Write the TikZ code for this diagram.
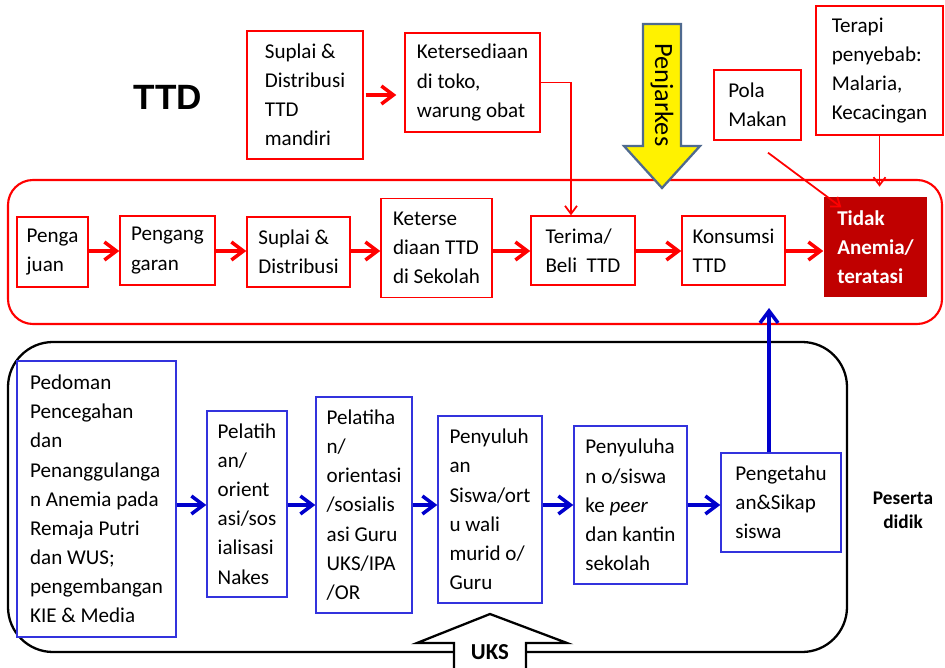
\documentclass[tikz,border=0pt]{standalone}
\usepackage{fontspec}
\setmainfont{Carlito}
\newfontfamily\arialfont{Liberation Sans}
\usetikzlibrary{arrows.meta}
\usetikzlibrary{positioning}

\definecolor{darkred}{HTML}{C00000}
\definecolor{boxblue}{HTML}{3333DD}
\definecolor{arrblue}{HTML}{0000CC}
\definecolor{penjline}{HTML}{4F6A8F}

\begin{document}
\begin{tikzpicture}[x=0.02cm,y=-0.02cm,
		every node/.style={font=\fontsize{12}{16.6}\selectfont},
		rbox/.style={rectangle,draw=red,line width=0.8pt,fill=white,align=left,inner sep=0pt},
		bbox/.style={rectangle,draw=boxblue,line width=0.8pt,fill=white,align=left,inner sep=0pt},
		rarrow/.style={draw=red,line width=2pt,-{Straight Barb[length=2.4mm,width=3.6mm]}},
		barrow/.style={draw=arrblue,line width=2pt,-{Straight Barb[length=2.4mm,width=3.6mm]}},
		rline/.style={draw=red,line width=1pt,-{Straight Barb[length=1.6mm,width=2.4mm]}}]
		
		\clip (0,0) rectangle (945,668);
		
		% frames
		\draw[red,line width=1.2pt,rounded corners=0.5cm] (8,180) rectangle (942,324); % TTD frame
		\draw[black,line width=1.3pt,rounded corners=0.9cm] (8,342) rectangle (847,652); % peserta didik frame
		
		% title
		\node (ttd) at (168,97) {\arialfont\fontsize{20}{24}\selectfont\bfseries TTD};
		
		% boxes top
		\node[rbox,minimum width=2.32cm,minimum height=2.56cm] (mandiri) at (305,95) {Suplai \&\\Distribusi\\TTD\\mandiri};
		\node[rbox,minimum width=2.70cm,minimum height=1.98cm] (toko) at (472.5,82.5) {Ketersediaan\\di toko,\\warung obat};
		\node[rbox,minimum width=1.74cm,minimum height=1.40cm] (pola) at (757.5,105) {Pola\\Makan};
		\node[rbox,minimum width=2.54cm,minimum height=2.58cm] (terapi) at (879.5,70.5) {Terapi\\penyebab:\\Malaria,\\Kecacingan};
		
		% boxes TTD row
		\node[rbox,minimum width=1.42cm,minimum height=1.40cm] (ajuan) at (52.5,252) {Penga\\juan};
		\node[rbox,minimum width=1.90cm,minimum height=1.38cm] (anggaran) at (167.5,250.5) {Pengang\\garan};
		\node[rbox,minimum width=2.06cm,minimum height=1.40cm] (suplai) at (298.5,252) {Suplai \&\\Distribusi};
		\node[rbox,minimum width=2.22cm,minimum height=1.98cm] (sekolah) at (436.5,248) {Keterse\\diaan TTD\\di Sekolah};
		\node[rbox,minimum width=2.08cm,minimum height=1.38cm] (terima) at (583,250.5) {Terima/\\Beli~~TTD};
		\node[rbox,minimum width=2.06cm,minimum height=1.38cm] (konsumsi) at (733.5,250.5) {Konsumsi\\TTD};
		\node[rbox,draw=none,fill=darkred,text=white,font=\fontsize{12}{16.6}\selectfont\bfseries,
			minimum width=2.06cm,minimum height=2.00cm] (tidak) at (875.5,247) {Tidak\\Anemia/\\teratasi};
		
		% boxes peserta didik row
		\node[bbox,minimum width=3.18cm,minimum height=5.52cm] (pedoman) at (96.5,499) {Pedoman\\Pencegahan\\dan\\Penanggulanga\\n Anemia pada\\Remaja Putri\\dan WUS;\\pengembangan\\KIE \& Media};
		\node[bbox,minimum width=1.60cm,minimum height=3.72cm] (nakes) at (247,504) {Pelatih\\an/\\orient\\asi/sos\\ialisasi\\Nakes};
		\node[bbox,minimum width=1.92cm,minimum height=4.32cm] (guru) at (364,505) {Pelatiha\\n/\\orientasi\\/sosialis\\asi Guru\\UKS/IPA\\/OR};
		\node[bbox,minimum width=2.08cm,minimum height=3.74cm] (siswa) at (490,509.5) {Penyuluh\\an\\Siswa/ort\\u wali\\murid o/\\Guru};
		\node[bbox,minimum width=2.26cm,minimum height=3.16cm] (peer) at (630.5,505) {Penyuluha\\n o/siswa\\ke \textit{peer}\\dan kantin\\sekolah};
		\node[bbox,minimum width=2.40cm,minimum height=1.98cm] (sikap) at (781,502.5) {Pengetahu\\an\&Sikap\\siswa};
		\node[align=center,font=\fontsize{11}{13.6}\selectfont\bfseries] (peserta) at (903,510) {Peserta\\didik};
		
		% row lines
		\coordinate (rrow) at (0,251);
		\coordinate (brow) at (0,505);
		\coordinate (redbottom) at (0,308);
		
		% red arrows
		\draw[rarrow,shorten <=0.04cm,shorten >=0.16cm] (mandiri.east) -- (mandiri.east -| toko.west);
		\draw[rarrow] (ajuan.east |- rrow) -- (anggaran.west |- rrow);
		\draw[rarrow] (anggaran.east |- rrow) -- (suplai.west |- rrow);
		\draw[rarrow] (suplai.east |- rrow) -- (sekolah.west |- rrow);
		\draw[rarrow] (sekolah.east |- rrow) -- (terima.west |- rrow);
		\draw[rarrow] (terima.east |- rrow) -- (konsumsi.west |- rrow);
		\draw[rarrow] (konsumsi.east |- rrow) -- (tidak.west |- rrow);
		
		% thin red lines
		\draw[rline] (toko.east) -| ([xshift=-0.24cm]terima.north);
		\draw[rline] ([xshift=0.21cm,yshift=-0.24cm]pola.south) -- ([xshift=0.36cm,yshift=-0.22cm]tidak.north west);
		\draw[rline] (terapi.south) -- ([yshift=-1.02cm]terapi.south);
		
		% blue arrows
		\draw[barrow] (pedoman.east |- brow) -- (nakes.west |- brow);
		\draw[barrow] (nakes.east |- brow) -- (guru.west |- brow);
		\draw[barrow] (guru.east |- brow) -- (siswa.west |- brow);
		\draw[barrow] (siswa.east |- brow) -- (peer.west |- brow);
		\draw[barrow] (peer.east |- brow) -- (sikap.west |- brow);
		\draw[barrow] ([xshift=-0.24cm]sikap.north) -- ([xshift=-0.24cm]sikap.north |- redbottom);
		
		% Penjarkes arrow
		\draw[fill=yellow,draw=penjline,line width=1.3pt,line join=miter]
			(643,24) -- (681,24) -- (681,146) -- (700,146) -- (662,188) -- (624,146) -- (643,146) -- cycle;
		\node[rotate=-90,font=\fontsize{15}{18}\selectfont] (penjarkes) at (662,95) {Penjarkes};
		
		% UKS arrow
		\draw[fill=white,line width=1.3pt]
			(454,690) -- (454,643) -- (417,643) -- (490,614) -- (567,643) -- (526,643) -- (526,690);
		\node[font=\fontsize{13}{15}\selectfont\bfseries] (uks) at (490,652) {UKS};
		
\end{tikzpicture}
\end{document}
